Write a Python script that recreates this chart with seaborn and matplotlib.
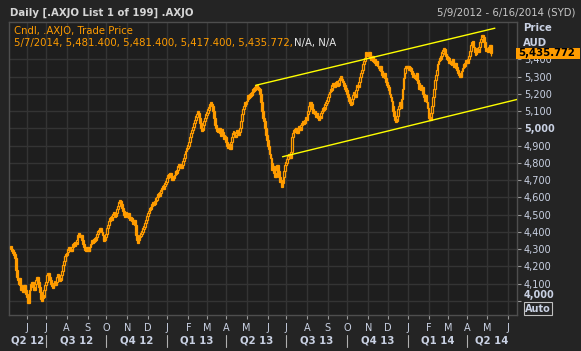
import numpy as np
import pandas as pd
import matplotlib
matplotlib.use("Agg")
import matplotlib.pyplot as plt
import matplotlib.transforms as mtransforms
from matplotlib.patches import Rectangle
import seaborn as sns

# daily closes of .AXJO, one list per month
first_open = 4320
may12 = [4300, 4290, 4280, 4270, 4250, 4180, 4140, 4120, 4100, 4130, 4090, 4060, 4080, 4050, 4090, 4060, 4040]
jun12 = [4020, 3990, 4010, 4060, 4100, 4090, 4110, 4080, 4060, 4100, 4120, 4140, 4110, 4080, 4050, 4010, 4000, 4030, 4020, 4060, 4090]
jul12 = [4110, 4150, 4160, 4140, 4120, 4100, 4090, 4080, 4100, 4110, 4090, 4110, 4140, 4150, 4130, 4120, 4150, 4170, 4210, 4230, 4260, 4270]
aug12 = [4270, 4280, 4300, 4310, 4300, 4290, 4310, 4330, 4320, 4340, 4330, 4350, 4380, 4390, 4380, 4370, 4380, 4350, 4330, 4310, 4300, 4290, 4310]
sep12 = [4300, 4290, 4310, 4330, 4340, 4350, 4340, 4360, 4350, 4370, 4390, 4400, 4410, 4420, 4410, 4400, 4380, 4360, 4350, 4370]
oct12 = [4390, 4420, 4440, 4460, 4480, 4470, 4490, 4500, 4510, 4500, 4490, 4510, 4530, 4550, 4570, 4580, 4560, 4540, 4520, 4500, 4490, 4510, 4500]
nov12 = [4490, 4510, 4480, 4470, 4480, 4460, 4450, 4470, 4440, 4380, 4350, 4340, 4350, 4370, 4380, 4390, 4400, 4420, 4430, 4450, 4470, 4490]
dec12 = [4510, 4520, 4540, 4530, 4550, 4560, 4570, 4560, 4580, 4590, 4600, 4620, 4610, 4630, 4640, 4650, 4660, 4650, 4670, 4680, 4690]
jan13 = [4710, 4730, 4720, 4740, 4720, 4700, 4720, 4710, 4730, 4750, 4740, 4760, 4780, 4790, 4780, 4770, 4790, 4810, 4830, 4850, 4870, 4880, 4890]
feb13 = [4900, 4920, 4950, 4970, 4990, 5010, 5030, 5050, 5070, 5080, 5100, 5090, 5060, 5030, 5000, 4990, 5020, 5040, 5060, 5080]
mar13 = [5090, 5110, 5120, 5140, 5150, 5140, 5130, 5100, 5060, 5020, 5000, 4990, 4980, 5000, 4970, 4960, 4990, 4980, 4960, 4940, 4950]
apr13 = [4920, 4900, 4890, 4910, 4880, 4920, 4950, 4970, 4980, 4960, 4950, 4970, 4990, 4960, 4980, 5000, 5040, 5080, 5110, 5130, 5150, 5140]
may13 = [5160, 5170, 5190, 5180, 5200, 5190, 5210, 5230, 5220, 5240, 5250, 5230, 5240, 5220, 5230, 5200, 5150, 5100, 5060, 5040, 5000, 4960, 4930]
jun13 = [4900, 4880, 4850, 4830, 4800, 4760, 4780, 4740, 4720, 4760, 4790, 4750, 4720, 4690, 4700, 4660, 4680, 4720, 4750, 4790]
jul13 = [4800, 4820, 4840, 4850, 4830, 4860, 4950, 4970, 4990, 4980, 5000, 4990, 4970, 5000, 5010, 4990, 5020, 5030, 5040, 5030, 5050, 5060, 5050]
aug13 = [5080, 5100, 5130, 5150, 5140, 5110, 5090, 5100, 5080, 5070, 5090, 5060, 5050, 5070, 5060, 5090, 5100, 5120, 5110, 5140, 5150, 5160]
sep13 = [5180, 5200, 5210, 5230, 5220, 5250, 5260, 5240, 5250, 5270, 5260, 5250, 5280, 5290, 5300, 5280, 5270, 5260, 5250, 5230, 5220]
oct13 = [5200, 5180, 5160, 5150, 5140, 5170, 5190, 5210, 5200, 5180, 5220, 5250, 5240, 5270, 5300, 5320, 5340, 5370, 5390, 5410, 5440, 5420, 5430]
nov13 = [5420, 5440, 5410, 5400, 5420, 5390, 5400, 5380, 5370, 5390, 5360, 5350, 5340, 5360, 5330, 5310, 5300, 5320, 5290, 5270, 5250]
dec13 = [5240, 5220, 5200, 5180, 5160, 5130, 5100, 5070, 5050, 5040, 5070, 5110, 5130, 5150, 5120, 5170, 5230, 5290, 5320, 5350, 5360, 5350]
jan14 = [5360, 5340, 5350, 5330, 5320, 5300, 5310, 5290, 5300, 5320, 5280, 5260, 5230, 5250, 5220, 5240, 5200, 5180, 5160, 5190, 5150, 5120, 5090]
feb14 = [5060, 5050, 5090, 5130, 5180, 5230, 5280, 5310, 5340, 5370, 5390, 5410, 5400, 5420, 5440, 5450, 5460, 5430, 5420, 5400]
mar14 = [5410, 5380, 5390, 5370, 5380, 5400, 5370, 5360, 5380, 5350, 5340, 5320, 5310, 5300, 5310, 5330, 5350, 5370, 5360, 5380, 5390]
apr14 = [5380, 5400, 5420, 5450, 5480, 5500, 5490, 5470, 5440, 5430, 5450, 5460, 5440, 5470, 5500, 5520, 5540, 5530, 5500, 5470, 5450, 5460]
may14 = [5440, 5460, 5470, 5481.4, 5435.772]

# last bar from the legend line: open, high, low, close
last_bar = [5481.400, 5481.400, 5417.400, 5435.772]

# hand drawn trend channel
upper_dates = ["2013-05-15", "2014-05-13"]
upper_vals = [5249, 5580]
lower_dates = ["2013-06-25", "2014-06-16"]
lower_vals = [4835, 5167]

month_letters = ["J", "J", "A", "S", "O", "N", "D", "J", "F", "M", "A", "M",
                 "J", "J", "A", "S", "O", "N", "D", "J", "F", "M", "A", "M", "J"]
quarter_labels = ["Q2 12", "Q3 12", "Q4 12", "Q1 13", "Q2 13", "Q3 13", "Q4 13", "Q1 14", "Q2 14"]
price_ticks = [4000, 4100, 4200, 4300, 4400, 4500, 4600, 4700, 4800, 4900, 5000, 5100, 5200, 5300, 5400]

closes = np.array(may12 + jun12 + jul12 + aug12 + sep12 + oct12 + nov12 + dec12 +
                  jan13 + feb13 + mar13 + apr13 + may13 + jun13 + jul13 + aug13 +
                  sep13 + oct13 + nov13 + dec13 + jan14 + feb14 + mar14 + apr14 + may14, dtype=float)

days = pd.bdate_range("2012-05-09", "2014-06-16")
def pos(d):
    return int(days.searchsorted(pd.Timestamp(d)))

n = len(closes)
idx = np.arange(n)
opens = np.concatenate([[first_open], closes[:-1]])
opens[-1] = last_bar[0]

orange = "#ff9c00"
figbg = "#242424"
axbg = "#1e1e1e"
txt = "#c9d1e3"

sns.set_theme(style="dark", rc={"axes.facecolor": axbg, "figure.facecolor": figbg,
                                "axes.edgecolor": "#4e4e4e", "grid.color": "#343434"})
plt.rcParams['font.family'] = ['DejaVu Sans']

fig = plt.figure(figsize=(5.81, 3.51), dpi=100)
ax = fig.add_axes([9/581, 1-315.3/351, (517-9)/581, (315.3-22)/351])

# candles (body from previous close to close)
up = closes >= opens
mid = (opens + closes) / 2
heights = np.maximum(np.abs(closes - opens), 16)
bottoms = mid - heights / 2
ax.bar(idx[up], heights[up], bottom=bottoms[up], width=1.9, facecolor=axbg,
       edgecolor=orange, linewidth=0.9, zorder=3)
ax.bar(idx[~up], heights[~up], bottom=bottoms[~up], width=1.9, color=orange,
       edgecolor=orange, linewidth=0.9, zorder=4)
ax.vlines(n-1, last_bar[2], last_bar[1], color=orange, lw=0.9, zorder=4)

# trend channel
sns.lineplot(x=[pos(d) for d in upper_dates], y=upper_vals, color="#ffff00", lw=1, ax=ax, zorder=5)
sns.lineplot(x=[pos(d) for d in lower_dates], y=lower_vals, color="#ffff00", lw=1, ax=ax, zorder=5)

ax.set_xlim(-2.3, len(days)-1)
ax.set_ylim(3916, 5616)

month_pos = [pos(m) for m in pd.date_range("2012-06-01", "2014-06-01", freq="MS")]
ax.set_xticks(month_pos, month_letters)
ax.set_yticks(price_ticks, [f"{p:,}" for p in price_ticks])
ax.yaxis.tick_right()
ax.grid(True, color="#343434", lw=1)
for s in ax.spines.values():
    s.set_color("#4e4e4e")
    s.set_linewidth(1)
ax.tick_params(axis="x", length=3, width=0.8, color="#9a9a9a", colors=txt, labelsize=7, pad=2.5, bottom=True)
ax.tick_params(axis="y", length=3, width=0.8, color="#9a9a9a", colors=txt, labelsize=7, pad=2, right=True)
for lab, p in zip(ax.get_yticklabels(), price_ticks):
    if p in (4000, 5000):
        lab.set_fontweight("bold")
    if p == 4000:
        lab.set_transform(lab.get_transform() + mtransforms.ScaledTranslation(0, 0.065, fig.dpi_scale_trans))

# quarter labels and separators
qb = [pos(q) for q in pd.date_range("2012-07-01", "2014-04-01", freq="QS")]
edges = [ax.get_xlim()[0]] + qb + [ax.get_xlim()[1]]
tr = mtransforms.blended_transform_factory(ax.transData, fig.transFigure)
for lab, a, b in zip(quarter_labels, edges[:-1], edges[1:]):
    ax.text((a+b)/2, 1-340.6/351, lab, transform=tr, ha="center", va="center",
            fontsize=7.3, fontweight="bold", color=txt)
for q in qb:
    ax.plot([q, q], [1-334.7/351, 1-346.9/351], transform=tr, color="#b0b0b0", lw=0.8, clip_on=False)

# header
fig.text(10/581, 1-12.7/351, "Daily [.AXJO List 1 of 199] .AXJO", fontsize=7.3,
         fontweight="bold", color="#d6d6d6", va="center")
fig.text(575.5/581, 1-12.7/351, "5/9/2012 - 6/16/2014 (SYD)", fontsize=7.3,
         color="#c8c8c8", va="center", ha="right")
fig.text(14/581, 1-30.7/351, "Cndl, .AXJO, Trade Price", fontsize=7.3, color=orange, va="center")
fig.text(14/581, 1-43.3/351, "5/7/2014, 5,481.400, 5,481.400, 5,417.400, 5,435.772,",
         fontsize=7.3, color=orange, va="center")
fig.text(293.7/581, 1-43.3/351, "N/A, N/A", fontsize=7.3, color="#e8e8e8", va="center")
fig.text(523/581, 1-28.3/351, "Price", fontsize=7.3, fontweight="bold", color=txt, va="center")
fig.text(523/581, 1-42.7/351, "AUD", fontsize=7.3, fontweight="bold", color=txt, va="center")

# last price marker on the price axis
trp = mtransforms.blended_transform_factory(fig.transFigure, ax.transData)
box_h = (5616 - 3916) * 11 / (315.3 - 22)
fig.add_artist(Rectangle((516/581, closes[-1] - box_h/2), 64/581, box_h, transform=trp,
                         facecolor=orange, edgecolor="none", zorder=5))
fig.text(518/581, closes[-1], f"{closes[-1]:,.3f}", transform=trp, fontsize=7.3,
         fontweight="bold", color="black", va="center", zorder=6)

fig.text(538/581, 1-308.7/351, "Auto", fontsize=7, fontweight="bold", color=txt,
         ha="center", va="center",
         bbox=dict(boxstyle="square,pad=0.15", facecolor="none", edgecolor="#c0c0c0", lw=0.8))

fig.savefig("out.png", dpi=100, facecolor=figbg)
